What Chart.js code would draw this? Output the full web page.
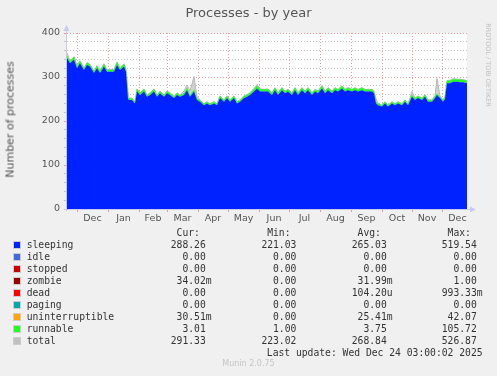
<!DOCTYPE html>
<html>
<head>
<meta charset="utf-8">
<script src="https://cdn.jsdelivr.net/npm/chart.js@4/dist/chart.umd.min.js"></script>
<style>
  body { margin: 0; background: #f0f0f0; }
  #wrap { position: relative; width: 497px; height: 376px; overflow: hidden; }
  #wrap div { position: absolute; white-space: pre; }
  .sans { font-family: 'DejaVu Sans', sans-serif; }
  .mono { font-family: 'DejaVu Sans Mono', monospace; font-size: 9.7px; color: #333; line-height: 12px; height: 12px; }
</style>
</head>
<body>
<div id="wrap">
  <canvas id="c" width="497" height="376"></canvas>
  <div class="sans" style="left:0;width:497px;top:5px;text-align:center;font-size:13px;color:#555;">Processes - by year</div>
  <div class="sans" style="left:-50px;top:113px;width:120px;text-align:center;font-size:11px;color:#555;transform:rotate(-90deg);">Number of processes</div>
  <div class="sans" style="left:443px;top:61px;width:90px;text-align:center;font-size:6.5px;color:#c0c0c0;transform:rotate(90deg);">RRDTOOL / TOBI OETIKER</div>
  <div class="sans" style="left:0;width:497px;top:359px;text-align:center;font-size:8px;color:#c4c4c4;">Munin 2.0.75</div>
</div>
<script>
// day offsets from the start of the 400-day window (Nov 21 2024 .. Dec 24 2025)
const days = [0,3,7,10,13,17,20,23,27,30,33,37,40,43,47,50,53,57,59,61,62,65,68,70,73,77,80,83,87,90,
  93,97,100,103,107,110,113,117,120,123,127,130,133,137,140,143,147,150,153,157,160,163,167,170,173,177,180,183,187,190,
  193,197,201,205,208,211,215,218,221,225,228,231,235,238,241,245,248,251,255,258,261,265,268,271,275,278,281,285,288,291,
  295,298,301,305,307,309,311,315,318,321,325,328,331,335,338,341,345,348,351,355,358,361,365,368,370,373,376,378,380,383,
  386,390,393,396,400];

const sleeping = [343,331,339,320,331,316,327,324,309,320,309,324,312,312,312,327,316,324,312,250,248,248,240,267,259,267,255,259,267,255,
  263,255,263,259,252,259,255,259,270,255,267,248,244,236,240,236,240,236,252,244,252,244,252,240,244,252,255,259,267,274,
  267,267,267,259,270,259,270,263,267,259,270,259,270,263,270,259,267,263,274,263,270,263,270,267,274,267,270,267,270,267,
  270,267,267,267,263,240,236,233,240,233,240,236,240,236,244,236,255,248,252,248,255,244,244,252,259,252,244,250,286,286,
  289,289,288,288,286];

const runnable = [5,4,6,4,5,3,5,4,3,5,4,5,3,4,4,6,4,5,4,3,3,3,2,5,4,5,3,4,5,3,
  4,3,4,4,3,4,3,4,5,3,4,3,3,2,3,2,3,2,4,3,4,3,4,3,3,4,4,4,5,6,
  5,4,5,4,5,4,5,4,4,4,5,4,5,4,5,4,4,4,5,4,5,4,5,4,5,4,5,4,5,4,
  5,4,4,4,4,3,3,2,3,2,3,2,3,2,3,2,4,3,4,3,4,3,3,4,3,3,3,3,5,5,
  6,5,6,5,5];

const total = [355,336,346,325,337,320,333,329,313,326,314,330,316,317,317,334,321,330,317,265,252,252,243,273,264,273,259,264,273,259,
  268,259,268,264,256,264,259,268,282,268,301,256,248,239,244,239,244,239,257,248,257,248,257,244,248,257,260,264,274,283,
  273,272,273,264,276,264,276,268,272,264,276,264,276,268,276,264,272,268,281,268,276,268,276,272,280,272,276,272,276,272,
  276,272,272,272,268,251,240,236,244,236,244,239,244,239,248,239,267,252,257,252,260,248,248,258,297,257,248,256,292,292,
  296,295,295,294,292];

const monthStarts = [10,41,72,100,131,161,192,222,253,284,315,345,375];
const monthMids = [25.5,56.5,86,115.5,146,176.5,207,237.5,268.5,299.5,330,360,390.5];
const monthLabels = ['Dec','Jan','Feb','Mar','Apr','May','Jun','Jul','Aug','Sep','Oct','Nov','Dec'];

const seriesNames = ['sleeping','idle','stopped','zombie','dead','paging','uninterruptible','runnable','total'];
const seriesColors = ['#0022ff','#4169e1','#cc0000','#990000','#ff0000','#00aaaa','#ffa500','#22ff22','#c0c0c0'];
const curVals = ['288.26 ','0.00 ','0.00 ','34.02m','0.00 ','0.00 ','30.51m','3.01 ','291.33 '];
const minVals = ['221.03 ','0.00 ','0.00 ','0.00 ','0.00 ','0.00 ','0.00 ','1.00 ','223.02 '];
const avgVals = ['265.03 ','0.00 ','0.00 ','31.99m','104.20u','0.00 ','25.41m','3.75 ','268.84 '];
const maxVals = ['519.54 ','0.00 ','0.00 ','1.00 ','993.33m','0.00 ','42.07 ','105.72 ','526.87 '];
const lastUpdate = 'Last update: Wed Dec 24 03:00:02 2025';

const toPoints = (vals) => vals.map((v, i) => ({ x: days[i], y: v }));

const axisColor = '#c6caee';
const chromePlugin = {
  id: 'chrome',
  beforeDraw(chart) {
    const { ctx, chartArea: a } = chart;
    ctx.save();
    ctx.fillStyle = '#ffffff';
    ctx.fillRect(a.left, a.top, a.right - a.left, a.bottom - a.top);
    ctx.restore();
  },
  afterDraw(chart) {
    const { ctx, chartArea: a } = chart;
    ctx.save();
    ctx.strokeStyle = axisColor;
    ctx.fillStyle = axisColor;
    ctx.lineWidth = 1;
    ctx.beginPath();
    ctx.moveTo(a.left - 0.5, a.bottom + 2);
    ctx.lineTo(a.left - 0.5, a.top - 3);
    ctx.moveTo(a.left - 3, a.bottom + 0.5);
    ctx.lineTo(a.right + 4, a.bottom + 0.5);
    ctx.stroke();
    ctx.beginPath();
    ctx.moveTo(a.left - 3.5, a.top - 2);
    ctx.lineTo(a.left + 2.5, a.top - 2);
    ctx.lineTo(a.left - 0.5, a.top - 8);
    ctx.closePath();
    ctx.fill();
    ctx.beginPath();
    ctx.moveTo(a.right + 3, a.bottom - 2.5);
    ctx.lineTo(a.right + 3, a.bottom + 3.5);
    ctx.lineTo(a.right + 9, a.bottom + 0.5);
    ctx.closePath();
    ctx.fill();
    ctx.restore();
  }
};

const tickFont = { family: 'DejaVu Sans', size: 9.5 };
const xTicks = monthStarts.concat(monthMids).sort((a, b) => a - b);

// dataset index order = stack order (sleeping at the bottom); last index is painted first
new Chart(document.getElementById('c'), {
  type: 'line',
  data: {
    datasets: [
      {
        label: 'sleeping', data: toPoints(sleeping), stack: 's',
        backgroundColor: '#0022ff', borderColor: '#0022ff', borderWidth: 0, fill: 'origin', pointRadius: 0
      },
      {
        label: 'runnable', data: toPoints(runnable), stack: 's',
        backgroundColor: '#22ff22', borderColor: '#22ff22', borderWidth: 0.5, fill: '-1', pointRadius: 0
      },
      {
        label: 'total', data: toPoints(total), stack: 't',
        backgroundColor: '#d0d0d0', borderColor: '#b8b8b8', borderWidth: 1, fill: 'origin', pointRadius: 0
      }
    ]
  },
  options: {
    responsive: false,
    animation: false,
    layout: { padding: { left: 0, right: 30, top: 33, bottom: 147 } },
    plugins: { legend: { display: false }, tooltip: { enabled: false }, title: { display: false } },
    elements: { line: { tension: 0 } },
    scales: {
      x: {
        type: 'linear', min: 0, max: 400,
        afterBuildTicks: (scale) => { scale.ticks = xTicks.map(v => ({ value: v })); },
        afterFit: (scale) => { scale.height = 20; },
        ticks: {
          autoSkip: false, maxRotation: 0, minRotation: 0, padding: 1,
          color: '#555', font: tickFont,
          callback: (v) => {
            const i = monthMids.indexOf(v);
            return i >= 0 ? monthLabels[i] : '';
          }
        },
        grid: {
          color: (ctx) => monthStarts.includes(ctx.tick && ctx.tick.value) ? '#ef9a9a' : 'rgba(0,0,0,0)',
          tickLength: 3
        },
        border: { display: false, dash: [1, 2] }
      },
      y: {
        stacked: true, min: 0, max: 400,
        afterFit: (scale) => { scale.width = 67; },
        ticks: {
          stepSize: 20, autoSkip: false, padding: 4, color: '#555', font: tickFont,
          callback: (v) => (v % 100 === 0 ? v : '')
        },
        grid: {
          color: (ctx) => (ctx.tick && ctx.tick.value % 100 === 0) ? '#ef9a9a' : '#c4c4c4',
          tickLength: 3
        },
        border: { display: false, dash: [1, 2] }
      }
    }
  },
  plugins: [chromePlugin]
});

// legend table, munin style
const wrap = document.getElementById('wrap');
function addText(txt, css) {
  const d = document.createElement('div');
  d.className = 'mono';
  d.textContent = txt;
  Object.assign(d.style, css);
  wrap.appendChild(d);
  return d;
}
const colRight = [211.6, 302.2, 392.6, 482.6];
['Cur:', 'Min:', 'Avg:', 'Max:'].forEach((h, j) => {
  addText(h + '  ', { right: (497 - colRight[j]) + 'px', top: (233.3 - 6) + 'px' });
});
seriesNames.forEach((name, i) => {
  const yc = 244.7 + 12 * i;
  const sq = document.createElement('div');
  Object.assign(sq.style, {
    left: '14px', top: (yc - 3) + 'px', width: '6px', height: '6px',
    background: seriesColors[i], outline: '0.5px solid rgba(0,0,0,0.15)'
  });
  wrap.appendChild(sq);
  addText(name, { left: '26.7px', top: (yc - 6) + 'px' });
  [curVals, minVals, avgVals, maxVals].forEach((col, j) => {
    addText(col[i], { right: (497 - colRight[j]) + 'px', top: (yc - 6) + 'px' });
  });
});
addText(lastUpdate, { right: (497 - 482.6) + 'px', top: (352.7 - 6) + 'px' });
</script>
</body>
</html>
